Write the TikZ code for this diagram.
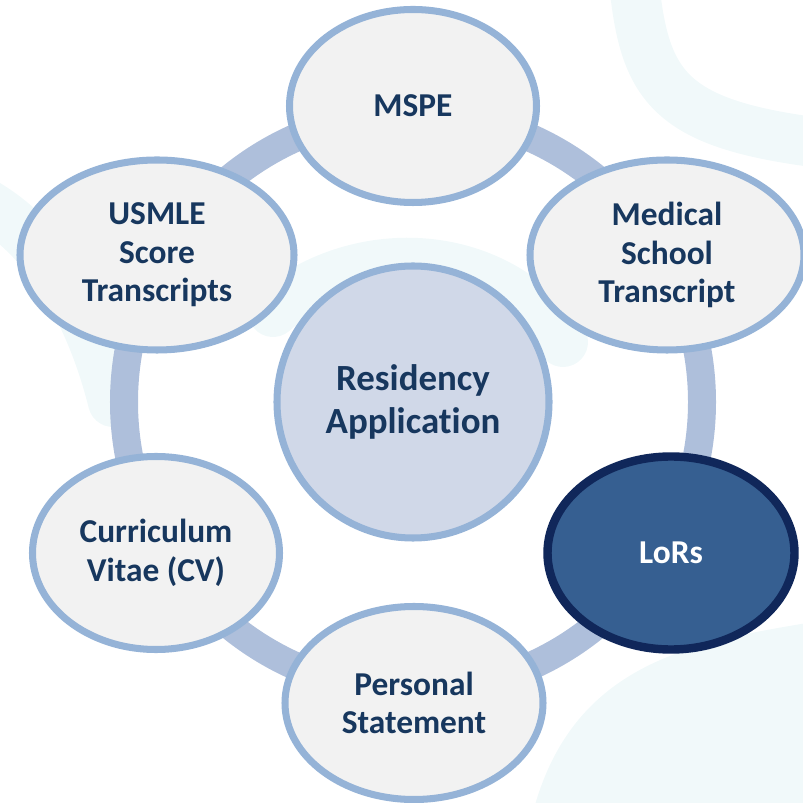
\documentclass[tikz,border=0pt]{standalone}
\usepackage{fontspec}
\setmainfont{Carlito}[Ligatures=NoCommon]
\usepackage{tikz}
\usetikzlibrary{shapes.geometric,shadows}

\definecolor{ringblue}{HTML}{AEBFDB}
\definecolor{rimblue}{HTML}{95B3D7}
\definecolor{hubfill}{HTML}{D0D8E8}
\definecolor{itemfill}{HTML}{F2F2F2}
\definecolor{textnavy}{HTML}{17375E}
\definecolor{lorfill}{HTML}{365F91}
\definecolor{lorrim}{HTML}{10275A}
\definecolor{wmark}{HTML}{F1F9FA}

\tikzset{
    item/.style={ellipse, draw=rimblue, line width=2pt, fill=itemfill, text=textnavy,
        font=\fontsize{9.5}{11}\selectfont\bfseries, align=center, inner sep=0pt,
        minimum width=2.47cm, minimum height=1.93cm,
        drop shadow={shadow xshift=0pt, shadow yshift=-0.03cm, opacity=0.18}},
    wide item/.style={item, minimum width=2.74cm, minimum height=1.90cm},
    focus item/.style={item, fill=lorfill, draw=lorrim, line width=2.4pt, text=white},
    hub/.style={circle, draw=rimblue, line width=2pt, fill=hubfill, text=textnavy,
        font=\fontsize{10.5}{12}\selectfont\bfseries, align=center, inner sep=0pt,
        minimum size=2.72cm,
        drop shadow={shadow xshift=0pt, shadow yshift=-0.03cm, opacity=0.18}},
    loop ring/.style={draw=ringblue, line width=0.28cm},
    swirl/.style={draw=wmark, line width=0.5cm, line cap=round}
}

\begin{document}
\begin{tikzpicture}
            \useasboundingbox (-4.13,-4.01) rectangle (3.90,4.02);

            % faint background swirls
            \draw[swirl] (2.2,4.3) .. controls (2.3,3.2) and (2.5,2.8) .. (4.0,2.6);
            \draw[swirl] (-4.3,2.0) .. controls (-3.6,1.6) and (-3.2,0.8) .. (-3.0,0.0);
            \fill[wmark] (1.2,-4.1) .. controls (1.6,-2.6) and (2.8,-2.4) .. (4.0,-2.2)
                -- (4.0,-4.1) -- cycle;
            \draw[swirl] (-1.4,0.9) .. controls (-0.6,1.6) and (0.8,1.6) .. (1.5,0.6);

            \coordinate (MID) at (0,0);
            \draw[loop ring] (MID) circle (2.89);

            \node[hub] at (MID) (APP) {Residency\\Application};

            \node[item] at (0,2.96) (MSPE) {MSPE};
            \node[wide item] at (2.54,1.47) (MST) {Medical\\School\\Transcript};
            \node[focus item] at (2.58,-1.51) (LOR) {LoRs};
            \node[item, minimum width=2.58cm] at (0.01,-3.01) (PS) {Personal\\Statement};
            \node[item] at (-2.57,-1.51) (CV) {Curriculum\\Vitae (CV)};
            \node[wide item] at (-2.56,1.47) (USMLE) {USMLE\\Score\\Transcripts};
        \end{tikzpicture}
\end{document}
